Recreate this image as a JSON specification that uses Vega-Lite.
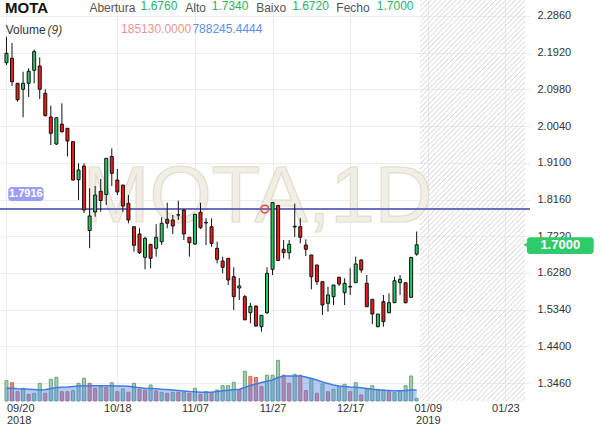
{
"$schema": "https://vega.github.io/schema/vega-lite/v6.json",
"width": 530, "height": 401,
"padding": {"left": 0, "top": 0, "right": 70, "bottom": 27},
"autosize": {"type": "none"},
"background": "#ffffff",
"config": {"view": {"stroke": null}, "font": "Liberation Sans",
  "axis": {"labelFont": "Liberation Sans", "labelFontSize": 11, "labelColor": "#333333", "domain": false, "ticks": false, "gridColor": "#ececec", "gridWidth": 1}},
"datasets": {"k": [
{"d":0,"o":2.1664,"h":2.2330,"l":2.1605,"c":2.1905,"v":1455000,"vd":"g","ma":910000},
{"d":1,"o":2.1777,"h":2.2168,"l":2.1067,"c":2.1177,"v":1311000,"vd":"r","ma":910000},
{"d":2,"o":2.1136,"h":2.1144,"l":2.0665,"c":2.0716,"v":666000,"vd":"r","ma":874000},
{"d":3,"o":2.0983,"h":2.1433,"l":2.0265,"c":2.1136,"v":910000,"vd":"g","ma":860000},
{"d":4,"o":2.1136,"h":2.1520,"l":2.0785,"c":2.1444,"v":480000,"vd":"r","ma":838000},
{"d":5,"o":2.1469,"h":2.2000,"l":2.1136,"c":2.1946,"v":552000,"vd":"g","ma":824000},
{"d":6,"o":2.1579,"h":2.1802,"l":2.0734,"c":2.0983,"v":1268000,"vd":"g","ma":788000},
{"d":7,"o":2.0880,"h":2.0983,"l":2.0281,"c":2.0312,"v":552000,"vd":"r","ma":810000},
{"d":8,"o":2.0273,"h":2.0565,"l":1.9556,"c":1.9856,"v":1555000,"vd":"g","ma":896000},
{"d":9,"o":1.9581,"h":2.0265,"l":1.9556,"c":2.0253,"v":1698000,"vd":"g","ma":967000},
{"d":10,"o":2.0089,"h":2.0624,"l":1.9871,"c":1.9897,"v":666000,"vd":"r","ma":982000},
{"d":11,"o":1.9984,"h":1.9984,"l":1.9261,"c":1.9658,"v":666000,"vd":"r","ma":1003000},
{"d":12,"o":1.9641,"h":1.9641,"l":1.8647,"c":1.8659,"v":738000,"vd":"g","ma":1039000},
{"d":13,"o":1.8667,"h":1.9087,"l":1.8147,"c":1.8916,"v":1268000,"vd":"g","ma":1075000},
{"d":14,"o":1.9018,"h":1.9087,"l":1.7814,"c":1.7891,"v":1627000,"vd":"g","ma":1096000},
{"d":15,"o":1.7366,"h":1.8447,"l":1.6910,"c":1.7737,"v":1268000,"vd":"r","ma":1096000},
{"d":16,"o":1.7840,"h":1.8506,"l":1.7720,"c":1.8275,"v":910000,"vd":"r","ma":1096000},
{"d":17,"o":1.8370,"h":1.8685,"l":1.7847,"c":1.8134,"v":1025000,"vd":"g","ma":1096000},
{"d":18,"o":1.8288,"h":1.9215,"l":1.8019,"c":1.9215,"v":982000,"vd":"r","ma":1096000},
{"d":19,"o":1.9261,"h":1.9471,"l":1.8506,"c":1.8831,"v":1311000,"vd":"g","ma":1096000},
{"d":20,"o":1.8659,"h":1.8941,"l":1.8275,"c":1.8352,"v":666000,"vd":"r","ma":1075000},
{"d":21,"o":1.8531,"h":1.8531,"l":1.7840,"c":1.7993,"v":860000,"vd":"g","ma":1075000},
{"d":22,"o":1.8063,"h":1.8275,"l":1.7550,"c":1.7635,"v":623000,"vd":"r","ma":1053000},
{"d":23,"o":1.7463,"h":1.7463,"l":1.6823,"c":1.6987,"v":1268000,"vd":"g","ma":1003000},
{"d":24,"o":1.7276,"h":1.7422,"l":1.6764,"c":1.6797,"v":838000,"vd":"r","ma":953000},
{"d":25,"o":1.6679,"h":1.7207,"l":1.6372,"c":1.7166,"v":788000,"vd":"r","ma":910000},
{"d":26,"o":1.7012,"h":1.7012,"l":1.6398,"c":1.6654,"v":1147000,"vd":"g","ma":896000},
{"d":27,"o":1.6910,"h":1.7525,"l":1.6695,"c":1.7192,"v":717000,"vd":"r","ma":874000},
{"d":28,"o":1.7079,"h":1.7704,"l":1.6995,"c":1.7551,"v":623000,"vd":"g","ma":838000},
{"d":29,"o":1.7653,"h":1.8078,"l":1.7422,"c":1.7551,"v":552000,"vd":"r","ma":824000},
{"d":30,"o":1.7635,"h":1.7763,"l":1.7277,"c":1.7481,"v":623000,"vd":"g","ma":788000},
{"d":31,"o":1.7760,"h":1.8130,"l":1.7635,"c":1.7770,"v":623000,"vd":"r","ma":752000},
{"d":32,"o":1.7891,"h":1.7909,"l":1.7123,"c":1.7276,"v":623000,"vd":"g","ma":717000},
{"d":33,"o":1.7192,"h":1.7192,"l":1.6695,"c":1.7054,"v":552000,"vd":"r","ma":681000},
{"d":34,"o":1.7020,"h":1.7781,"l":1.6995,"c":1.7781,"v":910000,"vd":"g","ma":659000},
{"d":35,"o":1.7832,"h":1.8078,"l":1.7405,"c":1.7438,"v":480000,"vd":"r","ma":631000},
{"d":36,"o":1.7575,"h":1.7679,"l":1.6995,"c":1.7560,"v":666000,"vd":"g","ma":623000},
{"d":37,"o":1.7463,"h":1.7679,"l":1.6951,"c":1.7038,"v":552000,"vd":"r","ma":623000},
{"d":38,"o":1.6910,"h":1.7079,"l":1.6525,"c":1.6628,"v":788000,"vd":"g","ma":681000},
{"d":39,"o":1.6585,"h":1.6695,"l":1.6270,"c":1.6424,"v":1096000,"vd":"g","ma":738000},
{"d":40,"o":1.6654,"h":1.6654,"l":1.5970,"c":1.6098,"v":1096000,"vd":"g","ma":774000},
{"d":41,"o":1.6183,"h":1.6424,"l":1.5330,"c":1.5671,"v":1340000,"vd":"g","ma":803000},
{"d":42,"o":1.5893,"h":1.6149,"l":1.5586,"c":1.5945,"v":810000,"vd":"r","ma":838000},
{"d":43,"o":1.5670,"h":1.5714,"l":1.5061,"c":1.5081,"v":2128000,"vd":"g","ma":967000},
{"d":44,"o":1.5261,"h":1.5509,"l":1.4989,"c":1.5425,"v":1770000,"vd":"r","ma":1111000},
{"d":45,"o":1.5425,"h":1.5458,"l":1.4902,"c":1.4920,"v":1684000,"vd":"r","ma":1218000},
{"d":46,"o":1.4902,"h":1.5194,"l":1.4774,"c":1.5194,"v":1025000,"vd":"r","ma":1326000},
{"d":47,"o":1.5261,"h":1.6424,"l":1.5228,"c":1.6270,"v":1849000,"vd":"g","ma":1412000},
{"d":48,"o":1.6372,"h":1.8083,"l":1.6226,"c":1.8083,"v":1849000,"vd":"g","ma":1505000},
{"d":49,"o":1.8006,"h":1.8019,"l":1.6585,"c":1.6597,"v":2917000,"vd":"g","ma":1684000},
{"d":50,"o":1.6885,"h":1.7123,"l":1.6654,"c":1.6798,"v":1849000,"vd":"r","ma":1792000},
{"d":51,"o":1.6798,"h":1.7123,"l":1.6629,"c":1.7012,"v":1268000,"vd":"r","ma":1792000},
{"d":52,"o":1.7475,"h":1.8055,"l":1.7200,"c":1.7455,"v":1913000,"vd":"g","ma":1792000},
{"d":53,"o":1.7463,"h":1.7679,"l":1.7038,"c":1.7192,"v":1849000,"vd":"r","ma":1792000},
{"d":54,"o":1.6995,"h":1.7140,"l":1.6713,"c":1.6885,"v":752000,"vd":"r","ma":1720000},
{"d":55,"o":1.6739,"h":1.6739,"l":1.5860,"c":1.6183,"v":1627000,"vd":"g","ma":1612000},
{"d":56,"o":1.6483,"h":1.6483,"l":1.5970,"c":1.6055,"v":552000,"vd":"r","ma":1505000},
{"d":57,"o":1.6055,"h":1.6055,"l":1.5202,"c":1.5458,"v":1218000,"vd":"g","ma":1362000},
{"d":58,"o":1.5501,"h":1.5927,"l":1.5286,"c":1.5714,"v":666000,"vd":"r","ma":1254000},
{"d":59,"o":1.5670,"h":1.5970,"l":1.5458,"c":1.5970,"v":838000,"vd":"g","ma":1147000},
{"d":60,"o":1.6167,"h":1.6183,"l":1.5944,"c":1.5996,"v":1025000,"vd":"g","ma":1075000},
{"d":61,"o":1.5773,"h":1.6142,"l":1.5458,"c":1.6013,"v":1197000,"vd":"g","ma":1039000},
{"d":62,"o":1.5918,"h":1.6398,"l":1.5714,"c":1.5935,"v":666000,"vd":"r","ma":1003000},
{"d":63,"o":1.6029,"h":1.6695,"l":1.6021,"c":1.6508,"v":1311000,"vd":"g","ma":982000},
{"d":64,"o":1.6611,"h":1.6628,"l":1.6286,"c":1.6355,"v":430000,"vd":"r","ma":953000},
{"d":65,"o":1.6013,"h":1.6226,"l":1.5407,"c":1.5414,"v":838000,"vd":"g","ma":896000},
{"d":66,"o":1.5604,"h":1.5604,"l":1.4971,"c":1.5227,"v":1096000,"vd":"g","ma":838000},
{"d":67,"o":1.4902,"h":1.5227,"l":1.4887,"c":1.5227,"v":838000,"vd":"g","ma":803000},
{"d":68,"o":1.5542,"h":1.5714,"l":1.4902,"c":1.5030,"v":788000,"vd":"g","ma":774000},
{"d":69,"o":1.5261,"h":1.5757,"l":1.5245,"c":1.5517,"v":666000,"vd":"r","ma":752000},
{"d":70,"o":1.5517,"h":1.6183,"l":1.5509,"c":1.6080,"v":595000,"vd":"g","ma":738000},
{"d":71,"o":1.6029,"h":1.6226,"l":1.5714,"c":1.6116,"v":717000,"vd":"g","ma":731000},
{"d":72,"o":1.6029,"h":1.6029,"l":1.5501,"c":1.5517,"v":1096000,"vd":"g","ma":752000},
{"d":73,"o":1.5655,"h":1.6679,"l":1.5650,"c":1.6679,"v":1792000,"vd":"g","ma":788000},
{"d":74,"o":1.676,"h":1.734,"l":1.672,"c":1.700,"v":185130,"vd":"g","ma":788245.4444}
]},
"data": {"name": "k"},
"layer": [
 {"encoding": {"x": {"field": "d", "type": "quantitative", "scale": {"domain": [-0.265, 93.54], "nice": false, "zero": false}}},
  "layer": [
   {"mark": {"type": "bar", "size": 3, "strokeWidth": 1, "orient": "vertical"},
    "encoding": {"y": {"field": "v", "type": "quantitative", "scale": {"domain": [0, 28735000], "nice": false, "zero": true}, "axis": null},
      "fill": {"condition": {"test": "datum.vd == 'g'", "value": "#a3d3ae"}, "value": "#ec8b80"},
      "stroke": {"condition": {"test": "datum.vd == 'g'", "value": "#6aa27a"}, "value": "#c9665f"}}},
   {"mark": {"type": "area", "fill": "#5a8ae6", "fillOpacity": 0.45},
    "encoding": {"y": {"field": "ma", "type": "quantitative", "axis": null}}},
   {"mark": {"type": "line", "stroke": "#3f7de0", "strokeWidth": 1.5},
    "encoding": {"y": {"field": "ma", "type": "quantitative", "axis": null}}}
  ]},
 {"layer": [
   {"transform": [{"filter": "datum.d == 74"}],
    "mark": {"type": "rect", "fill": {"gradient": "linear", "x1": 0, "y1": 0, "x2": 0.3165, "y2": 1.1829, "stops": [
{"offset":0,"color":"rgba(215,215,215,0)"},{"offset":0.0025,"color":"#dcdcdc"},{"offset":0.005,"color":"rgba(215,215,215,0)"},
{"offset":0.01,"color":"rgba(215,215,215,0)"},{"offset":0.0125,"color":"#dcdcdc"},{"offset":0.015,"color":"rgba(215,215,215,0)"},
{"offset":0.02,"color":"rgba(215,215,215,0)"},{"offset":0.0225,"color":"#dcdcdc"},{"offset":0.025,"color":"rgba(215,215,215,0)"},
{"offset":0.03,"color":"rgba(215,215,215,0)"},{"offset":0.0325,"color":"#dcdcdc"},{"offset":0.035,"color":"rgba(215,215,215,0)"},
{"offset":0.04,"color":"rgba(215,215,215,0)"},{"offset":0.0425,"color":"#dcdcdc"},{"offset":0.045,"color":"rgba(215,215,215,0)"},
{"offset":0.05,"color":"rgba(215,215,215,0)"},{"offset":0.0525,"color":"#dcdcdc"},{"offset":0.055,"color":"rgba(215,215,215,0)"},
{"offset":0.06,"color":"rgba(215,215,215,0)"},{"offset":0.0625,"color":"#dcdcdc"},{"offset":0.065,"color":"rgba(215,215,215,0)"},
{"offset":0.07,"color":"rgba(215,215,215,0)"},{"offset":0.0725,"color":"#dcdcdc"},{"offset":0.075,"color":"rgba(215,215,215,0)"},
{"offset":0.08,"color":"rgba(215,215,215,0)"},{"offset":0.0825,"color":"#dcdcdc"},{"offset":0.085,"color":"rgba(215,215,215,0)"},
{"offset":0.09,"color":"rgba(215,215,215,0)"},{"offset":0.0925,"color":"#dcdcdc"},{"offset":0.095,"color":"rgba(215,215,215,0)"},
{"offset":0.10,"color":"rgba(215,215,215,0)"},{"offset":0.1025,"color":"#dcdcdc"},{"offset":0.105,"color":"rgba(215,215,215,0)"},
{"offset":0.11,"color":"rgba(215,215,215,0)"},{"offset":0.1125,"color":"#dcdcdc"},{"offset":0.115,"color":"rgba(215,215,215,0)"},
{"offset":0.12,"color":"rgba(215,215,215,0)"},{"offset":0.1225,"color":"#dcdcdc"},{"offset":0.125,"color":"rgba(215,215,215,0)"},
{"offset":0.13,"color":"rgba(215,215,215,0)"},{"offset":0.1325,"color":"#dcdcdc"},{"offset":0.135,"color":"rgba(215,215,215,0)"},
{"offset":0.14,"color":"rgba(215,215,215,0)"},{"offset":0.1425,"color":"#dcdcdc"},{"offset":0.145,"color":"rgba(215,215,215,0)"},
{"offset":0.15,"color":"rgba(215,215,215,0)"},{"offset":0.1525,"color":"#dcdcdc"},{"offset":0.155,"color":"rgba(215,215,215,0)"},
{"offset":0.16,"color":"rgba(215,215,215,0)"},{"offset":0.1625,"color":"#dcdcdc"},{"offset":0.165,"color":"rgba(215,215,215,0)"},
{"offset":0.17,"color":"rgba(215,215,215,0)"},{"offset":0.1725,"color":"#dcdcdc"},{"offset":0.175,"color":"rgba(215,215,215,0)"},
{"offset":0.18,"color":"rgba(215,215,215,0)"},{"offset":0.1825,"color":"#dcdcdc"},{"offset":0.185,"color":"rgba(215,215,215,0)"},
{"offset":0.19,"color":"rgba(215,215,215,0)"},{"offset":0.1925,"color":"#dcdcdc"},{"offset":0.195,"color":"rgba(215,215,215,0)"},
{"offset":0.20,"color":"rgba(215,215,215,0)"},{"offset":0.2025,"color":"#dcdcdc"},{"offset":0.205,"color":"rgba(215,215,215,0)"},
{"offset":0.21,"color":"rgba(215,215,215,0)"},{"offset":0.2125,"color":"#dcdcdc"},{"offset":0.215,"color":"rgba(215,215,215,0)"},
{"offset":0.22,"color":"rgba(215,215,215,0)"},{"offset":0.2225,"color":"#dcdcdc"},{"offset":0.225,"color":"rgba(215,215,215,0)"},
{"offset":0.23,"color":"rgba(215,215,215,0)"},{"offset":0.2325,"color":"#dcdcdc"},{"offset":0.235,"color":"rgba(215,215,215,0)"},
{"offset":0.24,"color":"rgba(215,215,215,0)"},{"offset":0.2425,"color":"#dcdcdc"},{"offset":0.245,"color":"rgba(215,215,215,0)"},
{"offset":0.25,"color":"rgba(215,215,215,0)"},{"offset":0.2525,"color":"#dcdcdc"},{"offset":0.255,"color":"rgba(215,215,215,0)"},
{"offset":0.26,"color":"rgba(215,215,215,0)"},{"offset":0.2625,"color":"#dcdcdc"},{"offset":0.265,"color":"rgba(215,215,215,0)"},
{"offset":0.27,"color":"rgba(215,215,215,0)"},{"offset":0.2725,"color":"#dcdcdc"},{"offset":0.275,"color":"rgba(215,215,215,0)"},
{"offset":0.28,"color":"rgba(215,215,215,0)"},{"offset":0.2825,"color":"#dcdcdc"},{"offset":0.285,"color":"rgba(215,215,215,0)"},
{"offset":0.29,"color":"rgba(215,215,215,0)"},{"offset":0.2925,"color":"#dcdcdc"},{"offset":0.295,"color":"rgba(215,215,215,0)"},
{"offset":0.30,"color":"rgba(215,215,215,0)"},{"offset":0.3025,"color":"#dcdcdc"},{"offset":0.305,"color":"rgba(215,215,215,0)"},
{"offset":0.31,"color":"rgba(215,215,215,0)"},{"offset":0.3125,"color":"#dcdcdc"},{"offset":0.315,"color":"rgba(215,215,215,0)"},
{"offset":0.32,"color":"rgba(215,215,215,0)"},{"offset":0.3225,"color":"#dcdcdc"},{"offset":0.325,"color":"rgba(215,215,215,0)"},
{"offset":0.33,"color":"rgba(215,215,215,0)"},{"offset":0.3325,"color":"#dcdcdc"},{"offset":0.335,"color":"rgba(215,215,215,0)"},
{"offset":0.34,"color":"rgba(215,215,215,0)"},{"offset":0.3425,"color":"#dcdcdc"},{"offset":0.345,"color":"rgba(215,215,215,0)"},
{"offset":0.35,"color":"rgba(215,215,215,0)"},{"offset":0.3525,"color":"#dcdcdc"},{"offset":0.355,"color":"rgba(215,215,215,0)"},
{"offset":0.36,"color":"rgba(215,215,215,0)"},{"offset":0.3625,"color":"#dcdcdc"},{"offset":0.365,"color":"rgba(215,215,215,0)"},
{"offset":0.37,"color":"rgba(215,215,215,0)"},{"offset":0.3725,"color":"#dcdcdc"},{"offset":0.375,"color":"rgba(215,215,215,0)"},
{"offset":0.38,"color":"rgba(215,215,215,0)"},{"offset":0.3825,"color":"#dcdcdc"},{"offset":0.385,"color":"rgba(215,215,215,0)"},
{"offset":0.39,"color":"rgba(215,215,215,0)"},{"offset":0.3925,"color":"#dcdcdc"},{"offset":0.395,"color":"rgba(215,215,215,0)"},
{"offset":0.40,"color":"rgba(215,215,215,0)"},{"offset":0.4025,"color":"#dcdcdc"},{"offset":0.405,"color":"rgba(215,215,215,0)"},
{"offset":0.41,"color":"rgba(215,215,215,0)"},{"offset":0.4125,"color":"#dcdcdc"},{"offset":0.415,"color":"rgba(215,215,215,0)"},
{"offset":0.42,"color":"rgba(215,215,215,0)"},{"offset":0.4225,"color":"#dcdcdc"},{"offset":0.425,"color":"rgba(215,215,215,0)"},
{"offset":0.43,"color":"rgba(215,215,215,0)"},{"offset":0.4325,"color":"#dcdcdc"},{"offset":0.435,"color":"rgba(215,215,215,0)"},
{"offset":0.44,"color":"rgba(215,215,215,0)"},{"offset":0.4425,"color":"#dcdcdc"},{"offset":0.445,"color":"rgba(215,215,215,0)"},
{"offset":0.45,"color":"rgba(215,215,215,0)"},{"offset":0.4525,"color":"#dcdcdc"},{"offset":0.455,"color":"rgba(215,215,215,0)"},
{"offset":0.46,"color":"rgba(215,215,215,0)"},{"offset":0.4625,"color":"#dcdcdc"},{"offset":0.465,"color":"rgba(215,215,215,0)"},
{"offset":0.47,"color":"rgba(215,215,215,0)"},{"offset":0.4725,"color":"#dcdcdc"},{"offset":0.475,"color":"rgba(215,215,215,0)"},
{"offset":0.48,"color":"rgba(215,215,215,0)"},{"offset":0.4825,"color":"#dcdcdc"},{"offset":0.485,"color":"rgba(215,215,215,0)"},
{"offset":0.49,"color":"rgba(215,215,215,0)"},{"offset":0.4925,"color":"#dcdcdc"},{"offset":0.495,"color":"rgba(215,215,215,0)"},
{"offset":0.50,"color":"rgba(215,215,215,0)"},{"offset":0.5025,"color":"#dcdcdc"},{"offset":0.505,"color":"rgba(215,215,215,0)"},
{"offset":0.51,"color":"rgba(215,215,215,0)"},{"offset":0.5125,"color":"#dcdcdc"},{"offset":0.515,"color":"rgba(215,215,215,0)"},
{"offset":0.52,"color":"rgba(215,215,215,0)"},{"offset":0.5225,"color":"#dcdcdc"},{"offset":0.525,"color":"rgba(215,215,215,0)"},
{"offset":0.53,"color":"rgba(215,215,215,0)"},{"offset":0.5325,"color":"#dcdcdc"},{"offset":0.535,"color":"rgba(215,215,215,0)"},
{"offset":0.54,"color":"rgba(215,215,215,0)"},{"offset":0.5425,"color":"#dcdcdc"},{"offset":0.545,"color":"rgba(215,215,215,0)"},
{"offset":0.55,"color":"rgba(215,215,215,0)"},{"offset":0.5525,"color":"#dcdcdc"},{"offset":0.555,"color":"rgba(215,215,215,0)"},
{"offset":0.56,"color":"rgba(215,215,215,0)"},{"offset":0.5625,"color":"#dcdcdc"},{"offset":0.565,"color":"rgba(215,215,215,0)"},
{"offset":0.57,"color":"rgba(215,215,215,0)"},{"offset":0.5725,"color":"#dcdcdc"},{"offset":0.575,"color":"rgba(215,215,215,0)"},
{"offset":0.58,"color":"rgba(215,215,215,0)"},{"offset":0.5825,"color":"#dcdcdc"},{"offset":0.585,"color":"rgba(215,215,215,0)"},
{"offset":0.59,"color":"rgba(215,215,215,0)"},{"offset":0.5925,"color":"#dcdcdc"},{"offset":0.595,"color":"rgba(215,215,215,0)"},
{"offset":0.60,"color":"rgba(215,215,215,0)"},{"offset":0.6025,"color":"#dcdcdc"},{"offset":0.605,"color":"rgba(215,215,215,0)"},
{"offset":0.61,"color":"rgba(215,215,215,0)"},{"offset":0.6125,"color":"#dcdcdc"},{"offset":0.615,"color":"rgba(215,215,215,0)"},
{"offset":0.62,"color":"rgba(215,215,215,0)"},{"offset":0.6225,"color":"#dcdcdc"},{"offset":0.625,"color":"rgba(215,215,215,0)"},
{"offset":0.63,"color":"rgba(215,215,215,0)"},{"offset":0.6325,"color":"#dcdcdc"},{"offset":0.635,"color":"rgba(215,215,215,0)"},
{"offset":0.64,"color":"rgba(215,215,215,0)"},{"offset":0.6425,"color":"#dcdcdc"},{"offset":0.645,"color":"rgba(215,215,215,0)"},
{"offset":0.65,"color":"rgba(215,215,215,0)"},{"offset":0.6525,"color":"#dcdcdc"},{"offset":0.655,"color":"rgba(215,215,215,0)"},
{"offset":0.66,"color":"rgba(215,215,215,0)"},{"offset":0.6625,"color":"#dcdcdc"},{"offset":0.665,"color":"rgba(215,215,215,0)"},
{"offset":0.67,"color":"rgba(215,215,215,0)"},{"offset":0.6725,"color":"#dcdcdc"},{"offset":0.675,"color":"rgba(215,215,215,0)"},
{"offset":0.68,"color":"rgba(215,215,215,0)"},{"offset":0.6825,"color":"#dcdcdc"},{"offset":0.685,"color":"rgba(215,215,215,0)"},
{"offset":0.69,"color":"rgba(215,215,215,0)"},{"offset":0.6925,"color":"#dcdcdc"},{"offset":0.695,"color":"rgba(215,215,215,0)"},
{"offset":0.70,"color":"rgba(215,215,215,0)"},{"offset":0.7025,"color":"#dcdcdc"},{"offset":0.705,"color":"rgba(215,215,215,0)"},
{"offset":0.71,"color":"rgba(215,215,215,0)"},{"offset":0.7125,"color":"#dcdcdc"},{"offset":0.715,"color":"rgba(215,215,215,0)"},
{"offset":0.72,"color":"rgba(215,215,215,0)"},{"offset":0.7225,"color":"#dcdcdc"},{"offset":0.725,"color":"rgba(215,215,215,0)"},
{"offset":0.73,"color":"rgba(215,215,215,0)"},{"offset":0.7325,"color":"#dcdcdc"},{"offset":0.735,"color":"rgba(215,215,215,0)"},
{"offset":0.74,"color":"rgba(215,215,215,0)"},{"offset":0.7425,"color":"#dcdcdc"},{"offset":0.745,"color":"rgba(215,215,215,0)"},
{"offset":0.75,"color":"rgba(215,215,215,0)"},{"offset":0.7525,"color":"#dcdcdc"},{"offset":0.755,"color":"rgba(215,215,215,0)"},
{"offset":0.76,"color":"rgba(215,215,215,0)"},{"offset":0.7625,"color":"#dcdcdc"},{"offset":0.765,"color":"rgba(215,215,215,0)"},
{"offset":0.77,"color":"rgba(215,215,215,0)"},{"offset":0.7725,"color":"#dcdcdc"},{"offset":0.775,"color":"rgba(215,215,215,0)"},
{"offset":0.78,"color":"rgba(215,215,215,0)"},{"offset":0.7825,"color":"#dcdcdc"},{"offset":0.785,"color":"rgba(215,215,215,0)"},
{"offset":0.79,"color":"rgba(215,215,215,0)"},{"offset":0.7925,"color":"#dcdcdc"},{"offset":0.795,"color":"rgba(215,215,215,0)"},
{"offset":0.80,"color":"rgba(215,215,215,0)"},{"offset":0.8025,"color":"#dcdcdc"},{"offset":0.805,"color":"rgba(215,215,215,0)"},
{"offset":0.81,"color":"rgba(215,215,215,0)"},{"offset":0.8125,"color":"#dcdcdc"},{"offset":0.815,"color":"rgba(215,215,215,0)"},
{"offset":0.82,"color":"rgba(215,215,215,0)"},{"offset":0.8225,"color":"#dcdcdc"},{"offset":0.825,"color":"rgba(215,215,215,0)"},
{"offset":0.83,"color":"rgba(215,215,215,0)"},{"offset":0.8325,"color":"#dcdcdc"},{"offset":0.835,"color":"rgba(215,215,215,0)"},
{"offset":0.84,"color":"rgba(215,215,215,0)"},{"offset":0.8425,"color":"#dcdcdc"},{"offset":0.845,"color":"rgba(215,215,215,0)"},
{"offset":0.85,"color":"rgba(215,215,215,0)"},{"offset":0.8525,"color":"#dcdcdc"},{"offset":0.855,"color":"rgba(215,215,215,0)"},
{"offset":0.86,"color":"rgba(215,215,215,0)"},{"offset":0.8625,"color":"#dcdcdc"},{"offset":0.865,"color":"rgba(215,215,215,0)"},
{"offset":0.87,"color":"rgba(215,215,215,0)"},{"offset":0.8725,"color":"#dcdcdc"},{"offset":0.875,"color":"rgba(215,215,215,0)"},
{"offset":0.88,"color":"rgba(215,215,215,0)"},{"offset":0.8825,"color":"#dcdcdc"},{"offset":0.885,"color":"rgba(215,215,215,0)"},
{"offset":0.89,"color":"rgba(215,215,215,0)"},{"offset":0.8925,"color":"#dcdcdc"},{"offset":0.895,"color":"rgba(215,215,215,0)"},
{"offset":0.90,"color":"rgba(215,215,215,0)"},{"offset":0.9025,"color":"#dcdcdc"},{"offset":0.905,"color":"rgba(215,215,215,0)"},
{"offset":0.91,"color":"rgba(215,215,215,0)"},{"offset":0.9125,"color":"#dcdcdc"},{"offset":0.915,"color":"rgba(215,215,215,0)"},
{"offset":0.92,"color":"rgba(215,215,215,0)"},{"offset":0.9225,"color":"#dcdcdc"},{"offset":0.925,"color":"rgba(215,215,215,0)"},
{"offset":0.93,"color":"rgba(215,215,215,0)"},{"offset":0.9325,"color":"#dcdcdc"},{"offset":0.935,"color":"rgba(215,215,215,0)"},
{"offset":0.94,"color":"rgba(215,215,215,0)"},{"offset":0.9425,"color":"#dcdcdc"},{"offset":0.945,"color":"rgba(215,215,215,0)"},
{"offset":0.95,"color":"rgba(215,215,215,0)"},{"offset":0.9525,"color":"#dcdcdc"},{"offset":0.955,"color":"rgba(215,215,215,0)"},
{"offset":0.96,"color":"rgba(215,215,215,0)"},{"offset":0.9625,"color":"#dcdcdc"},{"offset":0.965,"color":"rgba(215,215,215,0)"},
{"offset":0.97,"color":"rgba(215,215,215,0)"},{"offset":0.9725,"color":"#dcdcdc"},{"offset":0.975,"color":"rgba(215,215,215,0)"},
{"offset":0.98,"color":"rgba(215,215,215,0)"},{"offset":0.9825,"color":"#dcdcdc"},{"offset":0.985,"color":"rgba(215,215,215,0)"},
{"offset":0.99,"color":"rgba(215,215,215,0)"},{"offset":0.9925,"color":"#dcdcdc"},{"offset":0.995,"color":"rgba(215,215,215,0)"},
{"offset":1,"color":"rgba(215,215,215,0)"}]}},
    "encoding": {"x": {"datum": 74.6, "type": "quantitative"}, "x2": {"datum": 93.54},
      "y": {"datum": 1.2999, "type": "quantitative"}, "y2": {"datum": 2.32698}}},
   {"transform": [{"filter": "datum.d == 74"}],
    "mark": {"type": "text", "text": "MOTA,1D", "font": "Liberation Sans", "fontSize": 80, "fill": "#f1eee6", "stroke": "#e2ddcc", "strokeWidth": 1.2, "align": "center", "baseline": "alphabetic"},
    "encoding": {"x": {"datum": 45.3, "type": "quantitative"}, "y": {"datum": 1.7584, "type": "quantitative"}}},
   {"transform": [{"filter": "datum.d == 74"}],
    "mark": {"type": "rule", "stroke": "#6f6fbf", "strokeWidth": 2},
    "encoding": {"y": {"datum": 1.7916, "type": "quantitative"}}},
   {"transform": [{"filter": "datum.d == 74"}],
    "mark": {"type": "rect", "fill": "#9d9df5", "cornerRadius": 3},
    "encoding": {"x": {"datum": 0.32, "type": "quantitative"}, "x2": {"datum": 6.69},
      "y": {"datum": 1.8480, "type": "quantitative"}, "y2": {"datum": 1.8122}}},
   {"transform": [{"filter": "datum.d == 74"}],
    "mark": {"type": "text", "text": "1.7916", "font": "Liberation Sans", "fontSize": 11, "fontWeight": "bold", "fill": "#ffffff", "align": "center", "baseline": "middle"},
    "encoding": {"x": {"datum": 3.5, "type": "quantitative"}, "y": {"datum": 1.8301, "type": "quantitative"}}},
   {"mark": {"type": "rule", "stroke": "#111111", "strokeWidth": 1},
    "encoding": {
      "x": {"field": "d", "type": "quantitative", "scale": {"domain": [-0.265, 93.54], "nice": false, "zero": false},
        "axis": {"title": null, "orient": "bottom", "values": [0, 20, 34, 48, 62, 76, 90], "grid": true, "labelOverlap": false, "labelFlush": false, "labelPadding": 1, "labelLineHeight": 12,
          "labelExpr": "datum.value == 0 ? ['09/20', '2018'] : datum.value == 20 ? '10/18' : datum.value == 34 ? '11/07' : datum.value == 48 ? '11/27' : datum.value == 62 ? '12/17' : datum.value == 76 ? ['01/09', '2019'] : '01/23'",
          "labelAlign": {"condition": {"test": "datum.value < 1", "value": "left"}, "value": "center"}}},
      "y": {"field": "l", "type": "quantitative", "scale": {"domain": [1.2999, 2.32698], "nice": false, "zero": false},
        "axis": {"title": null, "orient": "right", "values": [1.346, 1.44, 1.534, 1.628, 1.722, 1.816, 1.91, 2.004, 2.098, 2.192, 2.286], "format": ".4f", "grid": true, "labelPadding": 7, "labelOverlap": false, "labelFlush": false}},
      "y2": {"field": "h"}}},
   {"mark": {"type": "bar", "size": 3, "stroke": "#111111", "strokeWidth": 1, "orient": "vertical"},
    "encoding": {"x": {"field": "d", "type": "quantitative"},
      "y": {"field": "o", "type": "quantitative"}, "y2": {"field": "c"},
      "fill": {"condition": {"test": "datum.c >= datum.o", "value": "#2bc466"}, "value": "#f01818"}}},
   {"transform": [{"filter": "datum.d == 74"}],
    "mark": {"type": "point", "shape": "circle", "size": 60, "filled": false, "stroke": "#e84545", "strokeWidth": 1.5, "opacity": 1},
    "encoding": {"x": {"datum": 46.6, "type": "quantitative"}, "y": {"datum": 1.7916, "type": "quantitative"}}},
   {"transform": [{"filter": "datum.d == 74"}],
    "mark": {"type": "text", "text": "MOTA", "font": "Liberation Sans", "fontSize": 15, "fontWeight": "bold", "fill": "#111111", "align": "left", "baseline": "alphabetic"},
    "encoding": {"x": {"datum": -0.265, "type": "quantitative"}, "y": {"datum": 2.2945, "type": "quantitative"}}},
   {"transform": [{"filter": "datum.d == 74"}],
    "mark": {"type": "text", "text": "Abertura", "font": "Liberation Sans", "fontSize": 12, "fill": "#555555", "align": "left", "baseline": "alphabetic"},
    "encoding": {"x": {"datum": 14.96, "type": "quantitative"}, "y": {"datum": 2.2950, "type": "quantitative"}}},
   {"transform": [{"filter": "datum.d == 74"}],
    "mark": {"type": "text", "font": "Liberation Sans", "fontSize": 12, "fill": "#29b35e", "align": "left", "baseline": "alphabetic"},
    "encoding": {"text": {"field": "o", "type": "quantitative", "format": ".4f"}, "x": {"datum": 24.2, "type": "quantitative"}, "y": {"datum": 2.3009, "type": "quantitative"}}},
   {"transform": [{"filter": "datum.d == 74"}],
    "mark": {"type": "text", "text": "Alto", "font": "Liberation Sans", "fontSize": 12, "fill": "#555555", "align": "left", "baseline": "alphabetic"},
    "encoding": {"x": {"datum": 32.25, "type": "quantitative"}, "y": {"datum": 2.2950, "type": "quantitative"}}},
   {"transform": [{"filter": "datum.d == 74"}],
    "mark": {"type": "text", "font": "Liberation Sans", "fontSize": 12, "fill": "#29b35e", "align": "left", "baseline": "alphabetic"},
    "encoding": {"text": {"field": "h", "type": "quantitative", "format": ".4f"}, "x": {"datum": 37.03, "type": "quantitative"}, "y": {"datum": 2.3009, "type": "quantitative"}}},
   {"transform": [{"filter": "datum.d == 74"}],
    "mark": {"type": "text", "text": "Baixo", "font": "Liberation Sans", "fontSize": 12, "fill": "#555555", "align": "left", "baseline": "alphabetic"},
    "encoding": {"x": {"datum": 45.04, "type": "quantitative"}, "y": {"datum": 2.2950, "type": "quantitative"}}},
   {"transform": [{"filter": "datum.d == 74"}],
    "mark": {"type": "text", "font": "Liberation Sans", "fontSize": 12, "fill": "#29b35e", "align": "left", "baseline": "alphabetic"},
    "encoding": {"text": {"field": "l", "type": "quantitative", "format": ".4f"}, "x": {"datum": 51.54, "type": "quantitative"}, "y": {"datum": 2.3009, "type": "quantitative"}}},
   {"transform": [{"filter": "datum.d == 74"}],
    "mark": {"type": "text", "text": "Fecho", "font": "Liberation Sans", "fontSize": 12, "fill": "#555555", "align": "left", "baseline": "alphabetic"},
    "encoding": {"x": {"datum": 59.5, "type": "quantitative"}, "y": {"datum": 2.2950, "type": "quantitative"}}},
   {"transform": [{"filter": "datum.d == 74"}],
    "mark": {"type": "text", "font": "Liberation Sans", "fontSize": 12, "fill": "#29b35e", "align": "left", "baseline": "alphabetic"},
    "encoding": {"text": {"field": "c", "type": "quantitative", "format": ".4f"}, "x": {"datum": 66.81, "type": "quantitative"}, "y": {"datum": 2.3009, "type": "quantitative"}}},
   {"transform": [{"filter": "datum.d == 74"}],
    "mark": {"type": "text", "text": "Volume", "font": "Liberation Sans", "fontSize": 12, "fill": "#333333", "align": "left", "baseline": "alphabetic"},
    "encoding": {"x": {"datum": -0.14, "type": "quantitative"}, "y": {"datum": 2.2391, "type": "quantitative"}}},
   {"transform": [{"filter": "datum.d == 74"}],
    "mark": {"type": "text", "text": "(9)", "font": "Liberation Sans", "fontSize": 12, "fontStyle": "italic", "fill": "#444444", "align": "left", "baseline": "alphabetic"},
    "encoding": {"x": {"datum": 7.4, "type": "quantitative"}, "y": {"datum": 2.2391, "type": "quantitative"}}},
   {"transform": [{"filter": "datum.d == 74"}],
    "mark": {"type": "text", "font": "Liberation Sans", "fontSize": 12, "fill": "#ec9490", "align": "left", "baseline": "alphabetic"},
    "encoding": {"text": {"field": "v", "type": "quantitative", "format": ".4f"}, "x": {"datum": 20.67, "type": "quantitative"}, "y": {"datum": 2.2432, "type": "quantitative"}}},
   {"transform": [{"filter": "datum.d == 74"}],
    "mark": {"type": "text", "font": "Liberation Sans", "fontSize": 12, "fill": "#5b8ff0", "align": "left", "baseline": "alphabetic"},
    "encoding": {"text": {"field": "ma", "type": "quantitative", "format": ".4f"}, "x": {"datum": 33.54, "type": "quantitative"}, "y": {"datum": 2.2432, "type": "quantitative"}}},
   {"transform": [{"filter": "datum.d == 74"}],
    "mark": {"type": "rect", "fill": "#2fca6a", "cornerRadius": 3},
    "encoding": {"x": {"datum": 93.89, "type": "quantitative"}, "x2": {"datum": 105.93},
      "y": {"datum": 1.7195, "type": "quantitative"}, "y2": {"datum": 1.6765}}},
   {"transform": [{"filter": "datum.d == 74"}],
    "mark": {"type": "point", "shape": "triangle-left", "size": 40, "filled": true, "fill": "#2fca6a", "opacity": 1},
    "encoding": {"x": {"datum": 93.75, "type": "quantitative"}, "y": {"datum": 1.70, "type": "quantitative"}}},
   {"transform": [{"filter": "datum.d == 74"}],
    "mark": {"type": "text", "font": "Liberation Sans", "fontSize": 13, "fontWeight": "bold", "fill": "#ffffff", "align": "center", "baseline": "middle"},
    "encoding": {"text": {"field": "c", "type": "quantitative", "format": ".4f"}, "x": {"datum": 99.9, "type": "quantitative"}, "y": {"datum": 1.6985, "type": "quantitative"}}}
 ]}
],
"resolve": {"scale": {"y": "independent"}}
}
